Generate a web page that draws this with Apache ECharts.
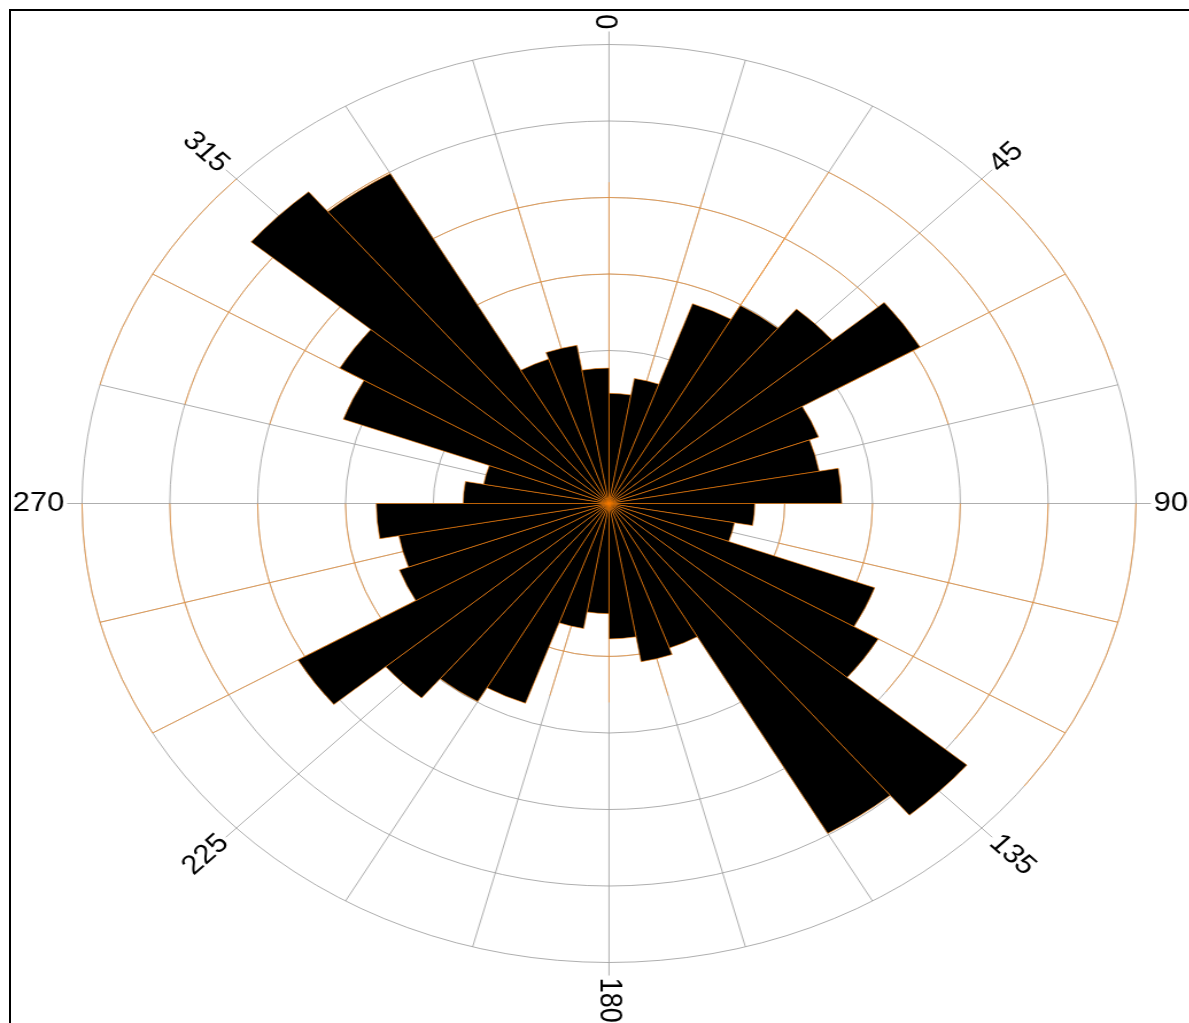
<!DOCTYPE html>
<html>
<head>
<meta charset="utf-8">
<script src="https://cdn.jsdelivr.net/npm/echarts@6/dist/echarts.min.js"></script>
<style>
  html, body { margin: 0; padding: 0; background: #fff; width: 1189px; height: 1023px; overflow: hidden; }
  #chart { position: absolute; left: 0; top: 0; width: 1036px; height: 1023px; transform: scaleX(1.14815); transform-origin: 0 0; }
  #frame { position: absolute; left: 9px; top: 9px; width: 1300px; height: 1100px; border-left: 2px solid #000; border-top: 2px solid #000; }
</style>
</head>
<body>
<div id="chart"></div>
<div id="frame"></div>
<script>
// 10 degree sectors, clockwise from north
const sectors = [
  '0-10', '10-20', '20-30', '30-40', '40-50', '50-60', '60-70', '70-80', '80-90',
  '90-100', '100-110', '110-120', '120-130', '130-140', '140-150', '150-160', '160-170', '170-180',
  '180-190', '190-200', '200-210', '210-220', '220-230', '230-240', '240-250', '250-260', '260-270',
  '270-280', '280-290', '290-300', '300-310', '310-320', '320-330', '330-340', '340-350', '350-360'
]
const counts = [
  1.44, 1.66, 2.78, 2.99, 3.32, 4.09, 2.54, 2.43, 2.65,
  1.66, 1.45, 3.22, 3.54, 5.32, 4.98, 2.01, 2.10, 1.77,
  1.44, 1.66, 2.78, 2.99, 3.32, 4.09, 2.54, 2.43, 2.65,
  1.66, 1.45, 3.22, 3.54, 5.32, 4.98, 2.01, 2.10, 1.77
]
// angle labels
const labelAngles = [0, 45, 90, 135, 180, 225, 270, 315]
const labelTexts = ['0', '45', '90', '135', '180', '225', '270', '315']
const ringMax = 6

// the picture is an ellipse: draw a circle and stretch it horizontally
const SCALE_X = 527 / 459
const CX = 609 / SCALE_X
const CY = 503.5
const R = 459
const GREY = '#999'
const O = '#ff8c1a'
const T = 'rgba(0,0,0,0)'

// parts of the grid drawn in orange: angle range, radius range, colours per spoke / ring
const orangePatches = [
  { a: [-30, 30], r: [0, 4.2], spokes: [T, O, O, O, O], rings: [T, T, T, O, O, T] },
  { a: [30, 75], r: [3, 5], spokes: [O, T, O, T], rings: [T, O, O] },
  { a: [45, 73], r: [5, 6], spokes: [T, O, T], rings: [T, O] },
  { a: [90, 128], r: [2, 6], spokes: [T, O, O, T], rings: [O, O, O, O, O] },
  { a: [150, 205], r: [0, 2.6], spokes: [T, O, O, O, T], rings: [T, T, O, T] },
  { a: [240, 270], r: [2, 6], spokes: [O, O, T], rings: [O, O, O, O, O] },
  { a: [285, 330], r: [3, 5], spokes: [T, O, O, T], rings: [T, O, O] },
  { a: [285, 315], r: [5, 6], spokes: [T, O, T], rings: [T, O] }
]

const hidden = { show: false }

const polar = [{ center: [CX, CY], radius: R }]
const angleAxis = [{
  polarIndex: 0,
  type: 'value',
  min: 0,
  max: 360,
  interval: 45,
  startAngle: 90,
  clockwise: true,
  axisLine: hidden,
  axisTick: { show: true, length: 13, lineStyle: { color: GREY, width: 0.8 } },
  axisLabel: hidden,
  splitLine: { show: true, lineStyle: { color: GREY, width: 0.8 } },
  minorTick: { show: false, splitNumber: 3 },
  minorSplitLine: { show: true, lineStyle: { color: GREY, width: 0.8 } }
}]
const radiusAxis = [{
  polarIndex: 0,
  type: 'value',
  min: 0,
  max: ringMax,
  interval: 1,
  axisLine: hidden,
  axisTick: hidden,
  axisLabel: hidden,
  splitLine: { show: true, lineStyle: { color: GREY, width: 0.8 } }
}]

orangePatches.forEach(p => {
  const i = polar.length
  polar.push({ center: [CX, CY], radius: [p.r[0] / ringMax * R, p.r[1] / ringMax * R] })
  angleAxis.push({
    polarIndex: i,
    type: 'value',
    min: p.a[0],
    max: p.a[1],
    interval: 15,
    startAngle: 90 - p.a[0],
    endAngle: 90 - p.a[1],
    clockwise: true,
    z: 1,
    axisLine: hidden,
    axisTick: hidden,
    axisLabel: hidden,
    splitLine: { show: true, lineStyle: { color: p.spokes, width: 0.6 } }
  })
  radiusAxis.push({
    polarIndex: i,
    type: 'value',
    min: p.r[0],
    max: p.r[1],
    interval: 1,
    z: 1,
    axisLine: hidden,
    axisTick: hidden,
    axisLabel: hidden,
    splitLine: { show: true, lineStyle: { color: p.rings, width: 0.6 } }
  })
})

// polar used by the bars
const barPolar = polar.length
polar.push({ center: [CX, CY], radius: R })
angleAxis.push({
  polarIndex: barPolar,
  type: 'category',
  data: sectors,
  startAngle: 90,
  clockwise: true,
  axisLine: hidden,
  axisTick: hidden,
  axisLabel: hidden,
  splitLine: hidden
})
radiusAxis.push({
  polarIndex: barPolar,
  type: 'value',
  min: 0,
  max: ringMax,
  axisLine: hidden,
  axisTick: hidden,
  axisLabel: hidden,
  splitLine: hidden
})

// tick labels, turned along the radius
const labelData = labelAngles.map((a, i) => ({
  value: [ringMax + 0.2, a],
  name: labelTexts[i],
  label: {
    rotate: a <= 180 ? 90 - a : 270 - a,
    align: a <= 180 ? 'left' : 'right'
  }
}))

const chart = echarts.init(document.getElementById('chart'))
chart.setOption({
  animation: false,
  backgroundColor: 'transparent',
  polar,
  angleAxis,
  radiusAxis,
  series: [
    {
      type: 'bar',
      coordinateSystem: 'polar',
      polarIndex: barPolar,
      data: counts,
      barCategoryGap: '0%',
      silent: true,
      z: 2,
      itemStyle: { color: '#000', borderColor: '#ff8000', borderWidth: 0.6 }
    },
    {
      type: 'scatter',
      coordinateSystem: 'polar',
      polarIndex: 0,
      symbolSize: 0,
      silent: true,
      clip: false,
      z: 3,
      data: labelData,
      itemStyle: { opacity: 1 },
      label: {
        show: true,
        position: 'inside',
        formatter: '{b}',
        verticalAlign: 'middle',
        color: '#000',
        opacity: 1,
        fontSize: 27,
        fontFamily: 'Liberation Sans, Arial, sans-serif'
      }
    }
  ]
})
</script>
</body>
</html>
